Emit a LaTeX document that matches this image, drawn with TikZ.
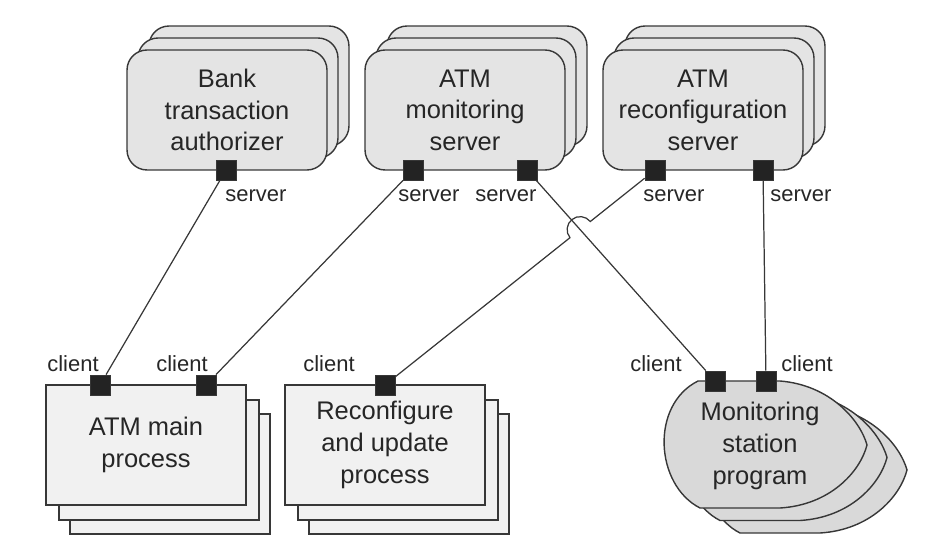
\documentclass[tikz,border=0pt]{standalone}
\usepackage{fontspec}
\setmainfont{Liberation Sans}
\usetikzlibrary{shadows,calc,intersections}
\definecolor{figline}{RGB}{55,55,55}
\definecolor{srvfill}{RGB}{228,228,228}
\definecolor{procfill}{RGB}{241,241,241}
\definecolor{progfill}{RGB}{217,217,217}
\definecolor{portfill}{RGB}{35,35,35}
\tikzset{
  srv/.style  ={draw=figline, line width=0.8pt, fill=srvfill, rounded corners=0.4cm,
                minimum width=4cm, minimum height=2.4cm, align=center, text=black!85,
                font=\fontsize{14.5}{18}\selectfont,
                copy shadow={shadow xshift=0.44cm, shadow yshift=0.48cm, draw=figline, line width=0.8pt, fill=srvfill},
                copy shadow={shadow xshift=0.22cm, shadow yshift=0.24cm, draw=figline, line width=0.8pt, fill=srvfill}},
  proc/.style ={draw=figline, line width=0.8pt, fill=procfill,
                minimum width=4cm, minimum height=2.4cm, align=center, text=black!85,
                font=\fontsize{14.5}{18}\selectfont,
                copy shadow={shadow xshift=0.48cm, shadow yshift=-0.58cm, draw=figline, line width=0.8pt, fill=procfill},
                copy shadow={shadow xshift=0.26cm, shadow yshift=-0.30cm, draw=figline, line width=0.8pt, fill=procfill}},
  prog/.style ={draw=figline, line width=0.8pt, fill=progfill},
  txt/.style  ={align=center, text=black!85, font=\fontsize{14.5}{18}\selectfont},
  prt/.style  ={draw=figline, fill=portfill, minimum size=0.4cm, inner sep=0pt},
  lab/.style  ={font=\fontsize{12.5}{15}\selectfont, inner sep=0pt, anchor=base west, text=black!85},
  wire/.style ={draw=figline, line width=0.7pt},
}
\begin{document}
\begin{tikzpicture}[x=0.02cm,y=-0.02cm]
  \useasboundingbox (0,0) rectangle (926,553);
  % servers
  \node[srv] (bta) at (227,110) {Bank\\transaction\\authorizer};
  \node[srv] (mon) at (465,110) {ATM\\monitoring\\server};
  \node[srv] (rec) at (703,110) {ATM\\reconfiguration\\server};
  % clients
  \node[proc] (main) at (146,445) {ATM main\\process};
  \node[proc] (upd) at (385,445) {Reconfigure\\and update\\process};
  \foreach \s in {2,1,0}
    \draw[prog,shift={(\s*20,\s*12.5)}] (698,381) -- (780,381)
      .. controls (830,385) and (860,420) .. (867,445)
      .. controls (860,472) and (830,505) .. (780,508) -- (700,508)
      .. controls (655,485) and (650,405) .. (698,381) -- cycle;
  \node[txt] (msp) at (760,446) {Monitoring\\station\\program};
  % ports
  \node[prt] (bta-s)  at (226,170) {};
  \node[prt] (mon-s1) at (413,170) {};
  \node[prt] (mon-s2) at (527,170) {};
  \node[prt] (rec-s1) at (655,170) {};
  \node[prt] (rec-s2) at (763,170) {};
  \node[prt] (main-c1) at (100,385) {};
  \node[prt] (main-c2) at (206,385) {};
  \node[prt] (upd-c)  at (385,385) {};
  \node[prt] (msp-c1) at (715,381) {};
  \node[prt] (msp-c2) at (766,381) {};
  \node[lab] (l1) at (225,202) {server};
  \node[lab] (l2) at (398,202) {server};
  \node[lab] (l3) at (475,202) {server};
  \node[lab] (l4) at (643,202) {server};
  \node[lab] (l5) at (770,202) {server};
  \node[lab] (l6) at (47,372) {client};
  \node[lab] (l7) at (156,372) {client};
  \node[lab] (l8) at (303,372) {client};
  \node[lab] (l9) at (630,372) {client};
  \node[lab] (l10) at (781,372) {client};
  % connectors
  \draw[wire] (bta-s) -- (main-c1);
  \draw[wire] (mon-s1) -- (main-c2);
  \draw[wire,name path=wa] (mon-s2) -- (msp-c1);
  \draw[wire] (rec-s2) -- (msp-c2);
  \path[name path=wb] (rec-s1) -- (upd-c);
  \path[name intersections={of=wa and wb,by=hop}];
  \draw[wire] let \p1=($(rec-s1)-(upd-c)$), \n1={atan2(\y1,\x1)} in
    (rec-s1) -- ($(hop)!0.26cm!(rec-s1)$) arc[start angle=\n1, delta angle=180, radius=0.26cm] -- (upd-c);
\end{tikzpicture}
\end{document}
